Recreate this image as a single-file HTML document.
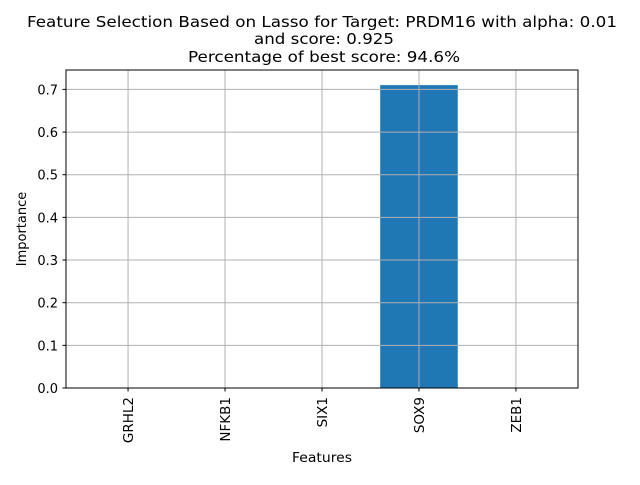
<!DOCTYPE html>
<html><head><meta charset="utf-8"><style>
body{margin:0;background:#fff;}
svg text{font-family:"DejaVu Sans","Liberation Sans",sans-serif;fill:#000;}
</style></head><body>
<svg width="640" height="480" xmlns="http://www.w3.org/2000/svg">
<rect width="640" height="480" fill="#fff"/>
<g>
<text x="322" y="27" font-size="15.5" text-anchor="middle" textLength="590" lengthAdjust="spacingAndGlyphs">Feature Selection Based on Lasso for Target: PRDM16 with alpha: 0.01</text>
<text x="324" y="44" font-size="15.5" text-anchor="middle" textLength="140" lengthAdjust="spacingAndGlyphs">and score: 0.925</text>
<text x="324" y="62" font-size="15.5" text-anchor="middle" textLength="272" lengthAdjust="spacingAndGlyphs">Percentage of best score: 94.6%</text>
</g>
<g id="plot"></g>
<text x="322" y="462" font-size="13" text-anchor="middle" textLength="60" lengthAdjust="spacingAndGlyphs">Features</text>
<text transform="translate(26,229) rotate(-90)" font-size="13" text-anchor="middle">Importance</text>
</svg>
<script>
const categories=["GRHL2","NFKB1","SIX1","SOX9","ZEB1"];
const values=[0,0,0,0.71,0];
const yTicks=[0,0.1,0.2,0.3,0.4,0.5,0.6,0.7];
const yTickLabels=["0.0","0.1","0.2","0.3","0.4","0.5","0.6","0.7"];
const L=66,R=578,T=70,B=388;
const ymax=Math.max(...values)*1.05||1;
const n=categories.length;
const xmin=-0.4-0.05*(n-0.2), xmax=n-1+0.4+0.05*(n-0.2);
const xs=v=>L+(v-xmin)/(xmax-xmin)*(R-L);
const ys=v=>B-v/ymax*(B-T);
const NS="http://www.w3.org/2000/svg";
const g=document.getElementById('plot');
function mk(t,a){const e=document.createElementNS(NS,t);for(const k in a)e.setAttribute(k,a[k]);g.appendChild(e);return e;}
values.forEach((v,i)=>{
 const w=xs(0.8)-xs(0);
 const r=mk('rect',{x:xs(i)-w/2,y:ys(v),width:w,height:B-ys(v),fill:'#1f77b4'});
 
 
});
categories.forEach((c,i)=>{
 const x=xs(i);
 const gl=mk('line',{x1:x,x2:x,y1:T,y2:B,stroke:'#b0b0b0','stroke-width':1});
 
 
 mk('line',{x1:x,x2:x,y1:B,y2:B+3.5,stroke:'#000','stroke-width':1});
 const t=mk('text',{transform:`translate(${x+5},${B+9}) rotate(-90)`,'font-size':13.5,'text-anchor':'end'});
 t.textContent=c;
 
 
});
yTicks.forEach((v,i)=>{
 const y=ys(v);
 const gl=mk('line',{x1:L,x2:R,y1:y,y2:y,stroke:'#b0b0b0','stroke-width':1});
 
 
 mk('line',{x1:L-3.5,x2:L,y1:y,y2:y,stroke:'#000','stroke-width':1});
 const t=mk('text',{x:L-8,y:y+5,'font-size':13,'text-anchor':'end'});
 t.textContent=yTickLabels[i];
 
 
});
const f=mk('rect',{x:L,y:T,width:R-L,height:B-T,fill:'none',stroke:'#000','stroke-width':1});


</script>
</body></html>
